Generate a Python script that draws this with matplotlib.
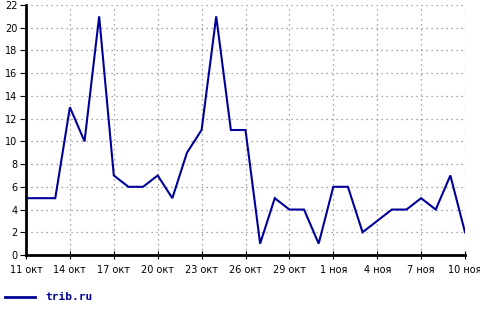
import matplotlib
matplotlib.use("Agg")
import matplotlib.pyplot as plt
from matplotlib.lines import Line2D

# daily values, 11 Oct .. 10 Nov
days = list(range(31))
values = [5, 5, 5, 13, 10, 21, 7, 6, 6, 7, 5, 9, 11, 21, 11, 11, 1,
          5, 4, 4, 1, 6, 6, 2, 3, 4, 4, 5, 4, 7, 2]
tick_pos = [0, 3, 6, 9, 12, 15, 18, 21, 24, 27, 30]
tick_labels = ["11 окт", "14 окт", "17 окт", "20 окт", "23 окт", "26 окт",
               "29 окт", "1 ноя", "4 ноя", "7 ноя", "10 ноя"]
y_ticks = list(range(0, 23, 2))
series_name = "trib.ru"

line_color = "#000099"

fig = plt.figure(figsize=(4.8, 3.12), dpi=100)
ax = fig.add_axes([26 / 480, 1 - 255 / 312, (465 - 26) / 480, 250 / 312])

ax.plot(days, values, color=line_color, lw=1.5, solid_joinstyle="miter")

ax.set_xlim(0, 30)
ax.set_ylim(0, 22)
ax.set_xticks(tick_pos)
ax.set_xticklabels(tick_labels, fontsize=7)
ax.set_yticks(y_ticks)
ax.set_yticklabels([str(v) for v in y_ticks], fontsize=7)

ax.grid(True, color="#888888", linestyle=(0, (1, 3)), linewidth=0.9)
for side in ("top", "right"):
    ax.spines[side].set_visible(False)
for side in ("left", "bottom"):
    ax.spines[side].set_linewidth(2)
ax.tick_params(axis="x", direction="inout", length=6, width=0.8, pad=4)
ax.tick_params(axis="y", direction="out", length=4, width=0.8, pad=2)

fig.add_artist(Line2D([5 / 480, 35 / 480], [1 - 297 / 312] * 2,
                      color=line_color, lw=2))
fig.text(45 / 480, 1 - 297 / 312, series_name, color=line_color,
         fontsize=8, fontweight="bold", family="DejaVu Sans Mono", va="center")

fig.savefig("out.png", dpi=100)
